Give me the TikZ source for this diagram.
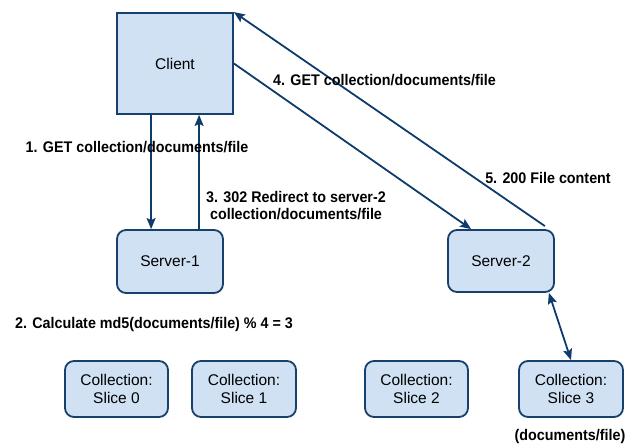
\documentclass[tikz,border=0pt]{standalone}
\usepackage{fontspec}
\setmainfont{Liberation Sans}
\newfontfamily\labfont{Liberation Sans}[FakeStretch=0.93]
\usetikzlibrary{arrows.meta}
\definecolor{boxfill}{RGB}{207,225,242}
\definecolor{boxline}{RGB}{24,64,108}
\definecolor{arrowc}{RGB}{14,60,106}
\tikzset{
  box/.style={draw=boxline, fill=boxfill, line width=1.8pt, inner sep=0pt,
    font=\fontsize{15.5}{18}\selectfont, align=center},
  rbox/.style={box, rounded corners=9pt},
  conn/.style={draw=arrowc, line width=1.8pt,
    -{Stealth[length=11pt,width=9pt,inset=2pt]}},
  dconn/.style={draw=arrowc, line width=1.8pt,
    {Stealth[length=11pt,width=9pt,inset=2pt]}-{Stealth[length=11pt,width=9pt,inset=2pt]}},
  lab/.style={inner sep=0pt, align=center,
    font=\labfont\bfseries\fontsize{15.4}{17}\selectfont}
}
\begin{document}
\begin{tikzpicture}[x=1pt,y=-1pt]
\useasboundingbox (0,0) rectangle (627,444);
\node[box, minimum width=116pt, minimum height=101pt] (client) at (175,63.5) {Client};
\node[rbox, minimum width=106pt, minimum height=63pt] (s1) at (170,261.5) {Server-1};
\node[rbox, minimum width=106pt, minimum height=62pt] (s2) at (501,261) {Server-2};
\node[rbox, minimum width=103pt, minimum height=56pt] (c0) at (116.5,389) {Collection:\\Slice 0};
\node[rbox, minimum width=104pt, minimum height=56pt] (c1) at (244,389) {Collection:\\Slice 1};
\node[rbox, minimum width=103pt, minimum height=56pt] (c2) at (416.5,389) {Collection:\\Slice 2};
\node[rbox, minimum width=104pt, minimum height=56pt] (c3) at (571,389) {Collection:\\Slice 3};

\draw[conn] ([xshift=35pt]client.south west) -- ([xshift=35pt]s1.north west);
\draw[conn] ([xshift=83pt]s1.north west) -- ([xshift=83pt]client.south west);
\draw[conn] (client.east) -- ([xshift=24pt]s2.north west);
\draw[conn] ([xshift=-10pt,yshift=3pt]s2.north east) -- (client.north east);
\draw[dconn] ([xshift=-6pt]s2.south east) -- (c3.north);

\node[lab] (l1) at (137,147) {1. GET collection/documents/file};
\node[lab] (l3) at (296,205.5) {3. 302 Redirect to server-2\\collection/documents/file};
\node[lab] (l4) at (384.5,80) {4. GET collection/documents/file};
\node[lab] (l5) at (548,178) {5. 200 File content};
\node[lab] (l2) at (154,325) {2. Calculate md5(documents/file) \% 4 = 3};
\node[lab] (ld) at (570,437) {(documents/file)};
\end{tikzpicture}
\end{document}
